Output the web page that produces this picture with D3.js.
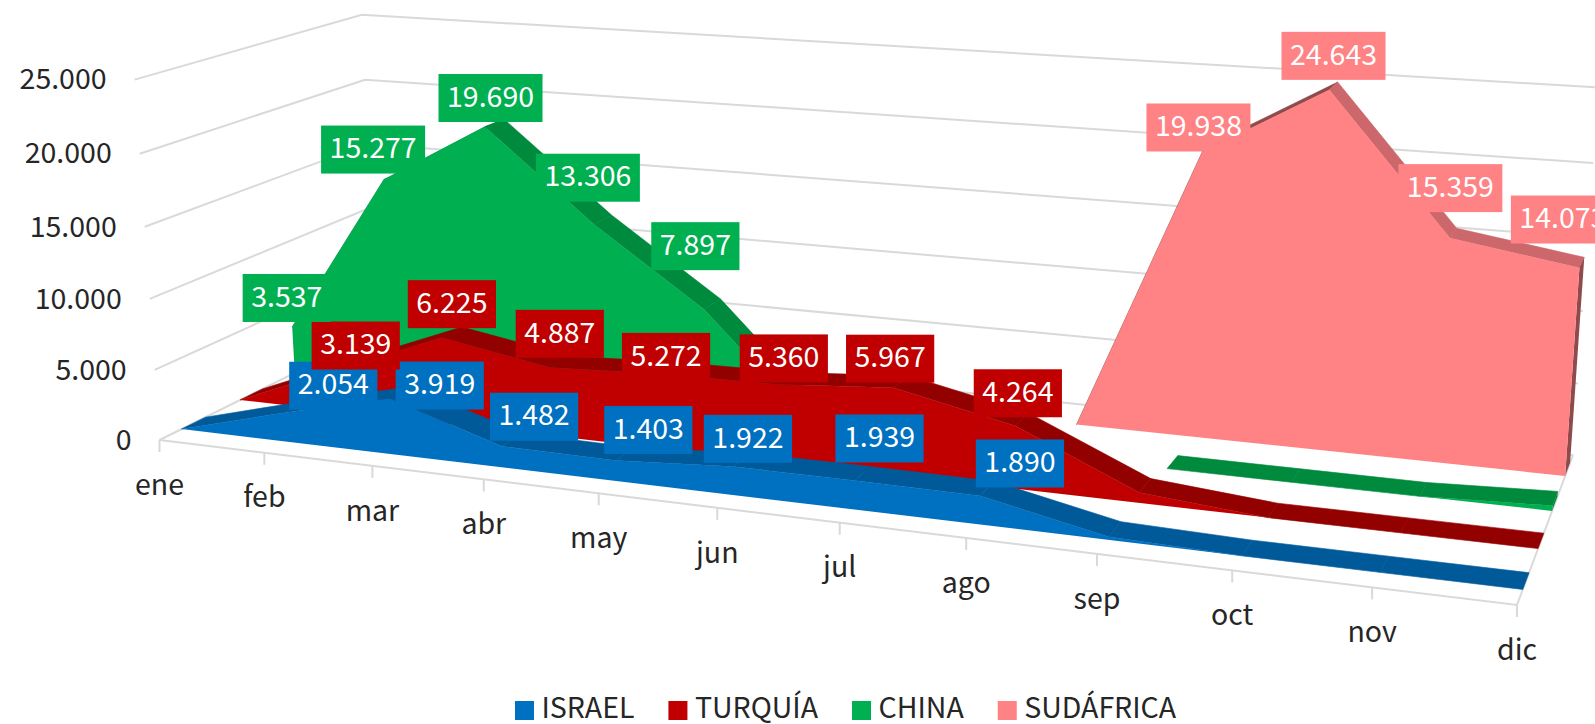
<!DOCTYPE html>
<html><head><meta charset="utf-8">
<script src="https://cdn.jsdelivr.net/npm/d3@7"></script>
<style>html,body{margin:0;padding:0;background:#fff;overflow:hidden}svg{display:block}
text{font-family:"Noto Sans CJK JP","Noto Sans",sans-serif;font-size:28.5px}</style>
</head><body><svg id="c" width="1595" height="724"></svg>
<script>
const categories=["ene","feb","mar","abr","may","jun","jul","ago","sep","oct","nov","dic"];
const seriesNames=["ISRAEL","TURQUÍA","CHINA","SUDÁFRICA"];
const israel=[0,2054,3919,1482,1403,1922,1939,1890,200,0,0,0];
const turquia=[0,3139,6225,4887,5272,5360,5967,4264,700,0,0,0];
const china=[3537,15277,19690,13306,7897,0,null,null,0,0,0,350];
const sudafrica=[null,null,null,null,null,null,null,0,19938,24643,15359,14073];
const valueTicks=[0,5000,10000,15000,20000,25000];
const colors=["#0070c0","#c00000","#00b050","#ff8285"];
const topColors=["#005a9a","#930000","#008a3e","#cc686b"];
const riseColors=["#005a9a","#930000","#008a3e","#8f4a4c"];
const seriesValues=[israel,turquia,china,sudafrica];
const fmt=v=>d3.format(",")(v).replace(/,/g,".");
const labelFloor=1000; // smaller values carry no data label in the chart

// hand placement of the data labels, relative to their default spot
const nudgeIsrael=[[0,0],[38,9],[39,23],[22,7],[23,6],[6,9],[17,-5],[33,5]];
const nudgeTurquia=[[0,0],[6,12],[0,2],[0,2],[-4,19],[0,10],[-11,7],[-4,4]];
const nudgeChina=[[-16,6],[-21,4],[-4,5],[-15,-12],[-17,-28]];
const nudgeSudafrica=[0,0,0,0,0,0,0,0,[-9,10],[0,0],[-3,-15],[-19,-13]];
const nudges=[nudgeIsrael,nudgeTurquia,nudgeChina,nudgeSudafrica];

const bands=[[0.09,0.19],[0.34,0.44],[0.59,0.69],[0.84,0.94]];
// perspective calibration: floor corners
const O=[159.5,440],C=[1517,605],E=[1573,455],D=[377,332];
const dx1=C[0]-E[0],dx2=D[0]-E[0],sx=O[0]-C[0]+E[0]-D[0];
const dy1=C[1]-E[1],dy2=D[1]-E[1],sy=O[1]-C[1]+E[1]-D[1];
const den=dx1*dy2-dx2*dy1,g=(sx*dy2-dx2*sy)/den,h=(dx1*sy-sx*dy1)/den;
const p1=[C[0]-O[0]+g*C[0],C[1]-O[1]+g*C[1],g],p2=[D[0]-O[0]+h*D[0],D[1]-O[1]+h*D[1],h],p4=[O[0],O[1],1];
// vertical column of the projection, least squares on known points of the picture
const refs=[[0,0,1,130,80],[0,0,0.8,135.5,153],[0,0,0.6,142,226],[0,0,0.4,148.5,298],[0,0,0.2,153,370],
  [0,1,1,368,15],[0,1,0.8,371,80],
  [9/11,bands[3][1],24643/25000,1337,83],[1,bands[3][1],14073/25000,1582.5,257],[1,bands[3][0],14073/25000,1579,267]];
const N=[[0,0,0],[0,0,0],[0,0,0]],R=[0,0,0];
refs.forEach(([u,d,w,x,y])=>{
  const a=[0,1,2].map(i=>p1[i]*u+p2[i]*d+p4[i]);
  [[w,0,-w*x,x*a[2]-a[0]],[0,w,-w*y,y*a[2]-a[1]]].forEach(r=>{
    for(let i=0;i<3;i++){R[i]+=r[i]*r[3];for(let j=0;j<3;j++)N[i][j]+=r[i]*r[j];}
  });
});
const det=m=>m[0][0]*(m[1][1]*m[2][2]-m[1][2]*m[2][1])-m[0][1]*(m[1][0]*m[2][2]-m[1][2]*m[2][0])+m[0][2]*(m[1][0]*m[2][1]-m[1][1]*m[2][0]);
const p3=[0,1,2].map(c=>det(N.map((row,i)=>row.map((v,j)=>j===c?R[i]:v)))/det(N));
function project(u,d,w){
  const X=p1[0]*u+p2[0]*d+p3[0]*w+p4[0],Y=p1[1]*u+p2[1]*d+p3[1]*w+p4[1],Z=p1[2]*u+p2[2]*d+p3[2]*w+p4[2];
  return [X/Z,Y/Z];
}
const uScale=d3.scalePoint().domain(categories).range([0,1]);
const wScale=d3.scaleLinear().domain([0,25000]).range([0,1]);

const svg=d3.select("#c");
const line=d3.line();
const poly=pts=>line(pts)+"Z";
const grid="#d9d9d9";

const gG=svg.append("g").attr("fill","none").attr("stroke",grid).attr("stroke-width",2);
valueTicks.forEach(t=>{
  const w=wScale(t);
  gG.append("path").attr("d",line([project(0,0,w),project(0,1,w),project(1,1,w)]));
});
gG.append("path").attr("d",line([project(1,1,0),project(1,0,0),project(0,0,0)]));
categories.forEach(c=>{
  const p=project(uScale(c),0,0);
  gG.append("path").attr("d",line([p,[p[0],p[1]+12]]));
});

d3.range(3,-1,-1).forEach(i=>{
  const vals=seriesValues[i],[d0,d1]=bands[i],g3=svg.append("g");
  const defined=categories.map((c,k)=>vals[k]!==null);
  for(let k=0;k<categories.length-1;k++){
    if(!defined[k]||!defined[k+1])continue;
    const u0=uScale(categories[k]),u1=uScale(categories[k+1]),w0=wScale(vals[k]),w1=wScale(vals[k+1]);
    const col=w1>w0?riseColors[i]:topColors[i];
    g3.append("path").attr("d",poly([project(u0,d0,w0),project(u1,d0,w1),project(u1,d1,w1),project(u0,d1,w0)]))
      .attr("fill",col).attr("stroke",col).attr("stroke-width",0.6);
  }
  const last=categories.length-1;
  if(vals[last]>0){
    const w=wScale(vals[last]);
    g3.append("path").attr("d",poly([project(1,d0,0),project(1,d0,w),project(1,d1,w),project(1,d1,0)])).attr("fill",riseColors[i]);
  }
  let run=[];
  const flush=()=>{
    if(run.length>1){
      const pts=run.map(k=>project(uScale(categories[k]),d0,wScale(vals[k])));
      pts.push(project(uScale(categories[run[run.length-1]]),d0,0),project(uScale(categories[run[0]]),d0,0));
      g3.append("path").attr("d",poly(pts)).attr("fill",colors[i]);
    }
    run=[];
  };
  categories.forEach((c,k)=>{ if(defined[k])run.push(k); else flush(); });
  flush();
});

valueTicks.forEach(t=>{
  const p=project(0,0,wScale(t));
  svg.append("text").attr("x",p[0]-28).attr("y",p[1]+2).attr("text-anchor","end").attr("dominant-baseline","middle").attr("fill","#262626").text(fmt(t));
});
categories.forEach(c=>{
  const p=project(uScale(c),0,0);
  svg.append("text").attr("x",p[0]).attr("y",p[1]+47).attr("text-anchor","middle").attr("dominant-baseline","middle").attr("fill","#262626").text(c);
});

seriesValues.forEach((vals,i)=>{
  const dm=(bands[i][0]+bands[i][1])/2;
  vals.forEach((v,k)=>{
    if(!v||v<labelFloor)return;
    const p=project(uScale(categories[k]),dm,wScale(v));
    const n=nudges[i][k]||[0,0];
    const g4=svg.append("g").attr("transform",`translate(${p[0]+n[0]},${p[1]-30+n[1]})`);
    const t=g4.append("text").attr("text-anchor","middle").attr("dominant-baseline","middle").attr("fill","#fff").attr("y",1).text(fmt(v));
    const w=t.node().getComputedTextLength()+17;
    g4.insert("rect","text").attr("x",-w/2).attr("y",-24).attr("width",w).attr("height",48).attr("fill",colors[i]);
  });
});

const lg=svg.append("g");
let x=515;
seriesNames.forEach((n,i)=>{
  lg.append("rect").attr("x",x).attr("y",701).attr("width",19).attr("height",19).attr("fill",colors[i]);
  const t=lg.append("text").attr("x",x+26.5).attr("y",710.5).attr("dominant-baseline","middle").attr("fill","#262626").text(n);
  x+=26.5+t.node().getComputedTextLength()+34;
});
</script></body></html>
